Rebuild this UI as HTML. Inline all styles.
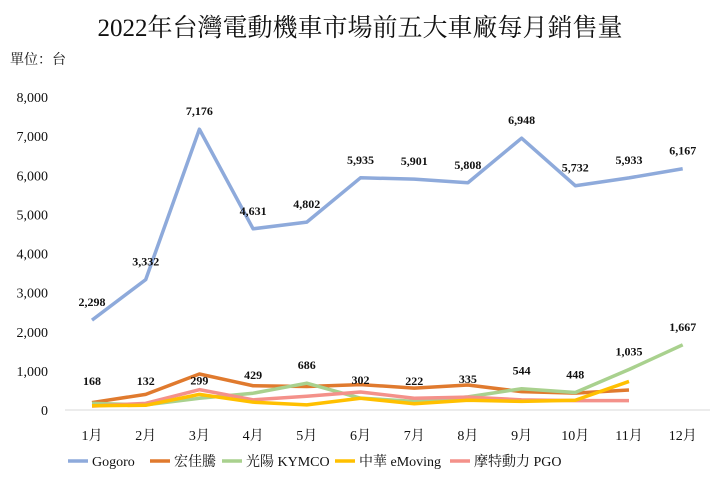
<!DOCTYPE html>
<html><head><meta charset="utf-8">
<style>
body{margin:0;background:#fff;}
svg{display:block;font-family:"Liberation Serif","Noto Serif CJK SC","Noto Sans CJK TC",serif;}
</style></head>
<body>
<svg id="c" width="720" height="479">
<text x="360" y="36" text-anchor="middle" font-size="25" fill="#111">2022年台灣電動機車市場前五大車廠每月銷售量</text>
<text x="10" y="64" font-size="14" fill="#111">單位：台</text>
</svg>
<script>
const months=["1月","2月","3月","4月","5月","6月","7月","8月","9月","10月","11月","12月"];
const yTicks=[0,1000,2000,3000,4000,5000,6000,7000,8000];
const gogoro=[2298,3332,7176,4631,4802,5935,5901,5808,6948,5732,5933,6167];
const hongjiateng=[190,400,920,620,600,650,560,640,470,430,510];
const kymco=[168,132,299,429,686,302,222,335,544,448,1035,1667];
const emoving=[110,120,400,200,130,300,160,250,220,250,730];
const pgo=[100,170,520,260,350,460,300,330,260,240,240];
const seriesNames=["Gogoro","宏佳騰","光陽 KYMCO","中華 eMoving","摩特動力 PGO"];
const colors=["#8eaadb","#e07a2e","#a9d18e","#ffc000","#f4918a"];
const NS="http://www.w3.org/2000/svg";
const svg=document.getElementById("c");
const x=i=>92+i*53.7;
const y=v=>410-v*(313/8000);
function el(t,a,p){const e=document.createElementNS(NS,t);for(const k in a)e.setAttribute(k,a[k]);(p||svg).appendChild(e);return e;}
yTicks.forEach(v=>{const t=el("text",{x:48,y:y(v)+5,"text-anchor":"end","font-size":14,fill:"#111"});t.textContent=v.toLocaleString("en-US");

});
const base=el("line",{x1:65,x2:710,y1:410,y2:410,stroke:"#d9d9d9"});


months.forEach((m,i)=>{const t=el("text",{x:x(i),y:440,"text-anchor":"middle","font-size":14,fill:"#111"});t.textContent=m;

});
const data=[gogoro,hongjiateng,kymco,emoving,pgo];
const order=[1,2,4,3,0];
order.forEach(s=>{const d=data[s];const p=el("polyline",{points:d.map((v,i)=>x(i)+","+y(v)).join(" "),fill:"none",stroke:colors[s],"stroke-width":3.5,"stroke-linejoin":"round"});

});
gogoro.forEach((v,i)=>{const t=el("text",{x:x(i),y:y(v)-14,"text-anchor":"middle","font-size":12,"font-weight":"bold",fill:"#111"});t.textContent=v.toLocaleString("en-US");

});
kymco.forEach((v,i)=>{const t=el("text",{x:x(i),y:Math.min(y(v)-14,385),"text-anchor":"middle","font-size":12,"font-weight":"bold",fill:"#111"});t.textContent=v.toLocaleString("en-US");

});
const lx=[68,150,222,335,450];
seriesNames.forEach((n,s)=>{const g=el("g",{});


el("line",{x1:lx[s],x2:lx[s]+20,y1:461,y2:461,stroke:colors[s],"stroke-width":3.5},g);
const t=el("text",{x:lx[s]+24,y:466,"font-size":14,fill:"#111"},g);t.textContent=n;});
</script>
</body></html>
